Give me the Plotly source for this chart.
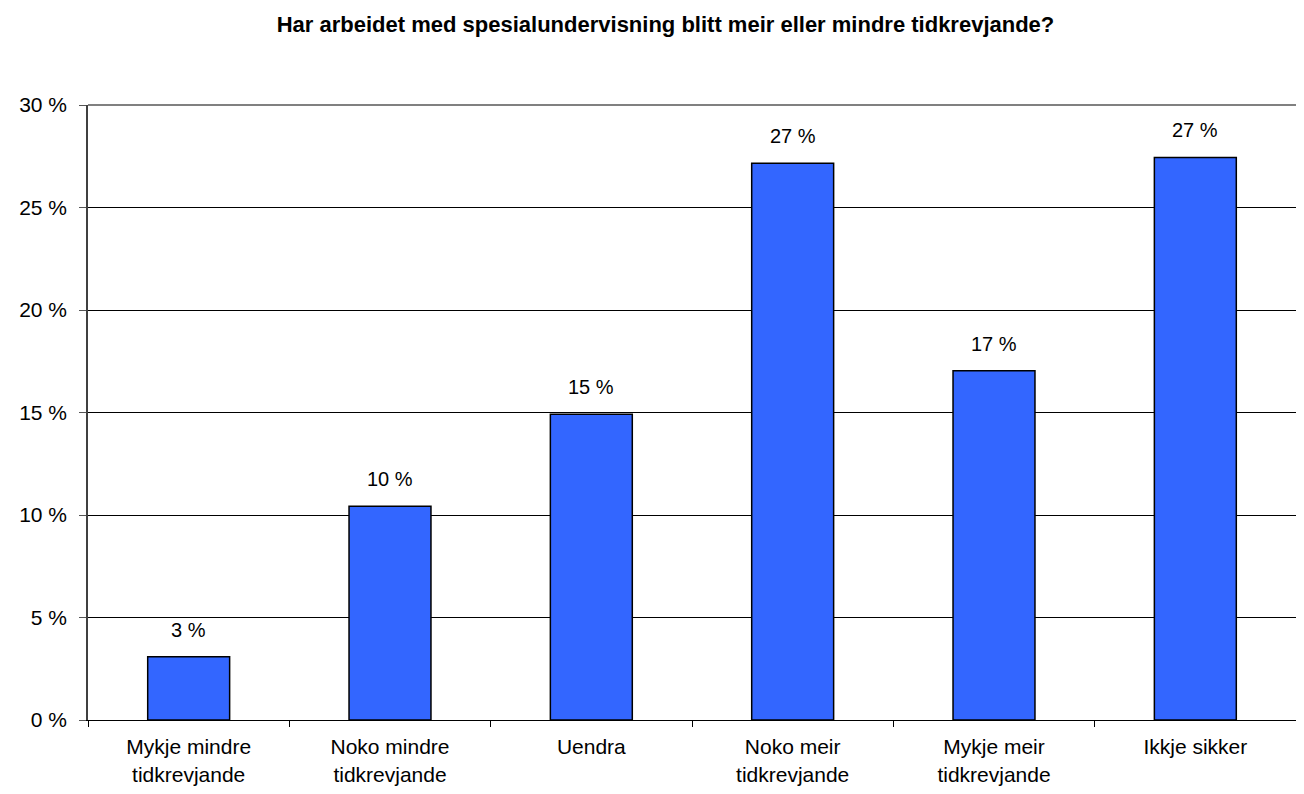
import plotly.graph_objects as go

categories = ["Mykje mindre<br>tidkrevjande", "Noko mindre<br>tidkrevjande", "Uendra",
              "Noko meir<br>tidkrevjande", "Mykje meir<br>tidkrevjande", "Ikkje sikker"]
values = [3.08, 10.43, 14.91, 27.16, 17.04, 27.44]
labels = ["3 %", "10 %", "15 %", "27 %", "17 %", "27 %"]
title = "Har arbeidet med spesialundervisning blitt meir eller mindre tidkrevjande?"

FONT = "Liberation Sans, Arial"

fig = go.Figure()
fig.add_trace(go.Bar(
    x=categories, y=values,
    marker=dict(color="#3366FF", line=dict(color="black", width=1.5)),
    hoverinfo="skip",
))
for c, v, t in zip(categories, values, labels):
    fig.add_annotation(x=c, y=v, text=t, showarrow=False, yanchor="bottom",
                       yshift=14, font=dict(size=20, color="black", family=FONT))

fig.add_shape(type="line", xref="paper", yref="paper", x0=0, x1=1, y0=1, y1=1,
              line=dict(color="#808080", width=2))

fig.update_layout(
    width=1288, height=778,
    margin=dict(l=80, r=0, t=97, b=66),
    paper_bgcolor="white", plot_bgcolor="white",
    bargap=0.593,
    showlegend=False,
    font=dict(family=FONT, size=20, color="black"),
    title=dict(text="<b>" + title + "</b>", x=0.5105, xanchor="center", y=0.979, yanchor="middle",
               font=dict(size=22, family=FONT, color="black")),
    xaxis=dict(showline=True, linecolor="black", linewidth=1, ticks="outside", tickson="boundaries",
               ticklen=6, tickcolor="black", showgrid=False, tickfont=dict(size=21),
               ticklabelstandoff=8),
    yaxis=dict(range=[0, 30], dtick=5, ticksuffix=" %", showline=True, linecolor="#404040", linewidth=1.5,
               ticks="outside", ticklen=7, tickcolor="#555555", showgrid=True, gridcolor="black",
               gridwidth=1, zeroline=False, tickfont=dict(size=21), ticklabelstandoff=8),
)
fig.write_html("out.html")
